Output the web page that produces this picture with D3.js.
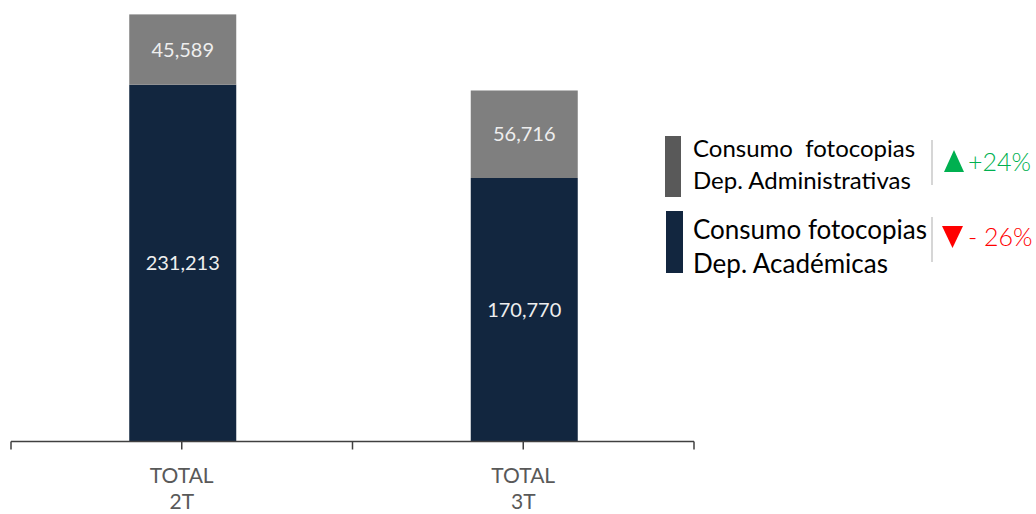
<!DOCTYPE html>
<html><head><meta charset="utf-8">
<script src="https://cdn.jsdelivr.net/npm/d3@7"></script>
<style>body{margin:0;background:#fff}svg{display:block}</style>
</head><body>
<svg id="c" width="1036" height="514"></svg>
<script>
const categories = [["TOTAL","2T"],["TOTAL","3T"]];
const academicas = [231213, 170770];
const administrativas = [45589, 56716];
const seriesNames = [["Consumo  fotocopias","Dep. Administrativas"],["Consumo fotocopias","Dep. Académicas"]];
const changes = ["+24%","- 26%"];
const changeDir = ["up","down"];
const colors = {acad:"#12263f", admin:"#7f7f7f", adminLegend:"#595959"};

const svg = d3.select("#c");
const font = "Lato, 'Open Sans', sans-serif";
const x0 = 11, x1 = 694, baseY = 441.5;
const keys = categories.map(c => c.join(" "));
const x = d3.scaleBand().domain(keys).range([x0, x1]).paddingInner(0).paddingOuter(0);
const y = d3.scaleLinear().domain([0, 280000]).range([baseY, baseY - 280000*0.001543]);
const bw = 107;

const data = keys.map((k,i)=>({k, acad:academicas[i], admin:administrativas[i]}));
const stack = d3.stack().keys(["acad","admin"])(data);
const fill = {acad:colors.acad, admin:colors.admin};

stack.forEach(s=>{
  svg.append("g").selectAll("rect").data(s).join("rect")
    .attr("x", d=>x(d.data.k)+x.bandwidth()/2-bw/2+1)
    .attr("width", bw)
    .attr("y", d=>y(d[1]))
    .attr("height", d=>y(d[0])-y(d[1]))
    .attr("fill", fill[s.key]);
  svg.append("g").selectAll("text").data(s).join("text")
    .attr("x", d=>x(d.data.k)+x.bandwidth()/2+1)
    .attr("y", d=>(y(d[0])+y(d[1]))/2)
    .attr("dy","0.35em")
    .attr("text-anchor","middle")
    .attr("font-family", font).attr("font-size", 20)
    .attr("fill","#eeeeee")
    .text(d=>d3.format(",")(d[1]-d[0]));
});

// axis
const ax = svg.append("g").attr("stroke","#404040").attr("stroke-width",1.5);
ax.append("line").attr("x1",x0).attr("x2",x1).attr("y1",baseY).attr("y2",baseY);
const tickXs = [x0, ...keys.map(k=>x(k)+x.bandwidth()/2), ...keys.map(k=>x(k)+x.bandwidth())];
tickXs.forEach(t=>ax.append("line").attr("x1",t).attr("x2",t).attr("y1",baseY).attr("y2",baseY+8));

svg.append("g").selectAll("text").data(categories).join("text")
  .attr("text-anchor","middle")
  .attr("font-family", font).attr("font-size", 21).attr("fill","#595959")
  .attr("x",(d,i)=>x(keys[i])+x.bandwidth()/2)
  .each(function(d){
    const t=d3.select(this);
    t.append("tspan").attr("x",t.attr("x")).attr("y",483).text(d[0]);
    t.append("tspan").attr("x",t.attr("x")).attr("y",509).text(d[1]);
  });

// legend
const leg = [
  {sw:[665,136,16,61], col:colors.adminLegend, lines:seriesNames[0], fs:24, ty:[157,189], sep:[140,185], ch:changes[0], dir:changeDir[0], cc:"#00b050", cy:162},
  {sw:[666,211,17,62], col:colors.acad, lines:seriesNames[1], fs:26, ty:[239,273], sep:[217,262], ch:changes[1], dir:changeDir[1], cc:"#ff0000", cy:237}
];
leg.forEach(l=>{
  svg.append("rect").attr("x",l.sw[0]).attr("y",l.sw[1]).attr("width",l.sw[2]).attr("height",l.sw[3]).attr("fill",l.col);
  l.lines.forEach((s,i)=>svg.append("text").attr("x",693).attr("y",l.ty[i])
    .attr("font-family",font).attr("font-size",l.fs).attr("fill","#000").style("white-space","pre").text(s));
  svg.append("line").attr("x1",932).attr("x2",932).attr("y1",l.sep[0]).attr("y2",l.sep[1]).attr("stroke","#c8c8c8").attr("stroke-width",1.5);
  const tri = l.dir==="up" ? `M944,${l.cy+10}L954,${l.cy-12}L964,${l.cy+10}Z` : `M942,${l.cy-11}L963,${l.cy-11}L952.5,${l.cy+11}Z`;
  svg.append("path").attr("d",tri).attr("fill",l.cc);
  svg.append("text").attr("x",968).attr("y",l.cy).attr("dy","0.35em")
    .attr("font-family",font).attr("font-size",25).attr("font-weight",300).attr("fill",l.cc).text(l.ch);
});
</script>
</body></html>
